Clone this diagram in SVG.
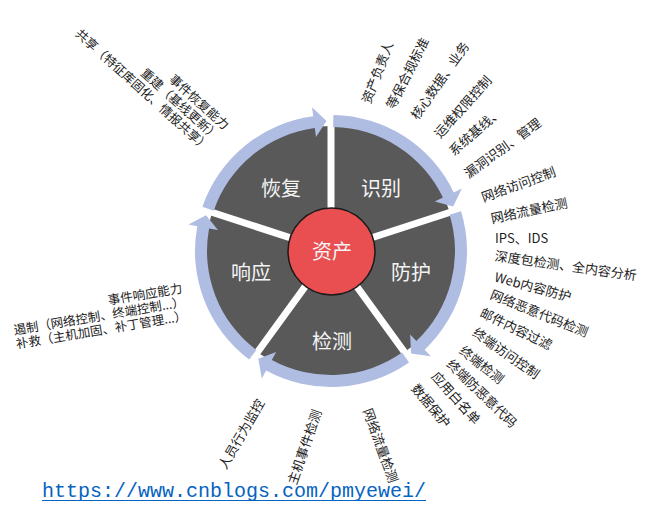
<svg xmlns="http://www.w3.org/2000/svg" width="646" height="516" viewBox="0 0 646 516">
<style>
.lb{font-family:"Noto Sans CJK SC","Noto Sans",sans-serif;font-size:13px;fill:#222}
.blk{font-family:"Noto Sans CJK SC","Noto Sans",sans-serif;font-size:12.5px;fill:#222}
.seg{font-family:"Noto Sans CJK SC","Noto Sans",sans-serif;font-size:20px;fill:#f4f4f4;text-anchor:middle}
.ring{fill:#b0bde3}
.gap{stroke:#fff;stroke-width:7}
</style>
<rect width="646" height="516" fill="#fff"/>
<g id="pie">
<circle cx="331" cy="251" r="125" fill="#595959"/>
<line class="gap" x1="331" y1="251" x2="331" y2="124"/>
<line class="gap" x1="331" y1="251" x2="451.78" y2="211.75"/>
<line class="gap" x1="331" y1="251" x2="405.65" y2="353.75"/>
<line class="gap" x1="331" y1="251" x2="256.35" y2="353.75"/>
<line class="gap" x1="331" y1="251" x2="210.22" y2="211.75"/>
</g>
<g id="connectors">
<path class="ring" d="M333.37,115.02 A136,136 0 0 1 453.75,192.45 L461.88,188.58 L453.16,206.54 L434.8,201.49 L442.92,197.62 A124,124 0 0 0 333.16,127.02 Z"/>
<path class="ring" d="M461.06,211.24 A136,136 0 0 1 424.62,349.65 L430.81,356.18 L411.04,353.44 L410.16,334.42 L416.36,340.95 A124,124 0 0 0 449.58,214.75 Z"/>
<path class="ring" d="M409.01,362.4 A136,136 0 0 1 266.11,370.52 L261.81,378.43 L258.31,358.78 L276.13,352.06 L271.83,359.97 A124,124 0 0 0 402.12,352.57 Z"/>
<path class="ring" d="M249.15,359.62 A136,136 0 0 1 197.28,226.22 L188.43,224.58 L206.04,215.17 L217.93,230.04 L209.08,228.4 A124,124 0 0 0 256.37,350.03 Z"/>
<path class="ring" d="M202.41,206.72 A136,136 0 0 1 313.25,116.16 L312.07,107.24 L326.46,121.08 L315.99,136.98 L314.81,128.06 A124,124 0 0 0 213.76,210.63 Z"/>
</g>
<g id="node-identify"><text class="seg" x="381" y="195.5">识别</text></g>
<g id="node-protect"><text class="seg" x="411" y="280">防护</text></g>
<g id="node-detect"><text class="seg" x="332" y="349">检测</text></g>
<g id="node-respond"><text class="seg" x="251" y="280">响应</text></g>
<g id="node-recover"><text class="seg" x="281" y="195.5">恢复</text></g>
<g id="node-asset">
<circle cx="331.5" cy="251.5" r="43.5" fill="#e94f51" stroke="#1a1a1a" stroke-width="1.5"/>
<text class="seg" x="332" y="259">资产</text>
</g>
<g id="labels-identify">
<text class="lb" transform="translate(366,103) rotate(-69)" y="4.5">资产负责人</text>
<text class="lb" transform="translate(390,108) rotate(-63)" y="4.5">等保合规标准</text>
<text class="lb" transform="translate(414,118) rotate(-55)" y="4.5">核心数据、业务</text>
<text class="lb" transform="translate(437,136) rotate(-48)" y="4.5">运维权限控制</text>
<text class="lb" transform="translate(451,153) rotate(-41)" y="4.5">系统基线、</text>
<text class="lb" transform="translate(466,175) rotate(-36)" y="4.5">漏洞识别、管理</text>
</g>
<g id="labels-protect">
<text class="lb" transform="translate(482,198) rotate(-20)" y="4.5">网络访问控制</text>
<text class="lb" transform="translate(491,219) rotate(-12)" y="4.5">网络流量检测</text>
<text class="lb" transform="translate(495,238)" y="4.5">IPS、IDS</text>
<text class="lb" transform="translate(495,256) rotate(8)" y="4.5">深度包检测、全内容分析</text>
<text class="lb" transform="translate(495,277) rotate(15)" y="4.5">Web内容防护</text>
<text class="lb" transform="translate(491,294) rotate(22)" y="4.5">网络恶意代码检测</text>
<text class="lb" transform="translate(481,312) rotate(26)" y="4.5">邮件内容过滤</text>
<text class="lb" transform="translate(474,331) rotate(35)" y="4.5">终端访问控制</text>
<text class="lb" transform="translate(461,349) rotate(38)" y="4.5">终端检测</text>
<text class="lb" transform="translate(449,362) rotate(44)" y="4.5">终端防恶意代码</text>
<text class="lb" transform="translate(434,374) rotate(48)" y="4.5">应用白名单</text>
<text class="lb" transform="translate(414,386) rotate(50)" y="4.5">数据保护</text>
</g>
<g id="labels-detect">
<text class="lb" transform="translate(222,468) rotate(-60)" y="4.5">人员行为监控</text>
<text class="lb" transform="translate(292,484) rotate(-71)" y="4.5">主机事件检测</text>
<text class="lb" transform="translate(367,409) rotate(70)" y="4.5">网络流量检测</text>
</g>
<g id="labels-respond" transform="translate(182,288) rotate(-9.5)">
<text class="blk" text-anchor="end" y="4.5">事件响应能力</text>
<text class="blk" text-anchor="end" y="18.5">遏制（网络控制、终端控制...）</text>
<text class="blk" text-anchor="end" y="32.5">补救（主机加固、补丁管理...）</text>
</g>
<g id="labels-recover" transform="translate(227,127) rotate(42)">
<text class="blk" text-anchor="end" y="4.5">事件恢复能力</text>
<text class="blk" text-anchor="end" y="19">重建（基线更新）</text>
<text class="blk" text-anchor="end" y="33.5">共享（特征库固化、情报共享）</text>
</g>
<g id="url">
<text x="42" y="497" font-family="Liberation Mono, monospace" font-size="20" fill="#0563c1">https://www.cnblogs.com/pmyewei/</text>
<line x1="42" y1="500.5" x2="426" y2="500.5" stroke="#0563c1" stroke-width="1"/>
</g>
</svg>
